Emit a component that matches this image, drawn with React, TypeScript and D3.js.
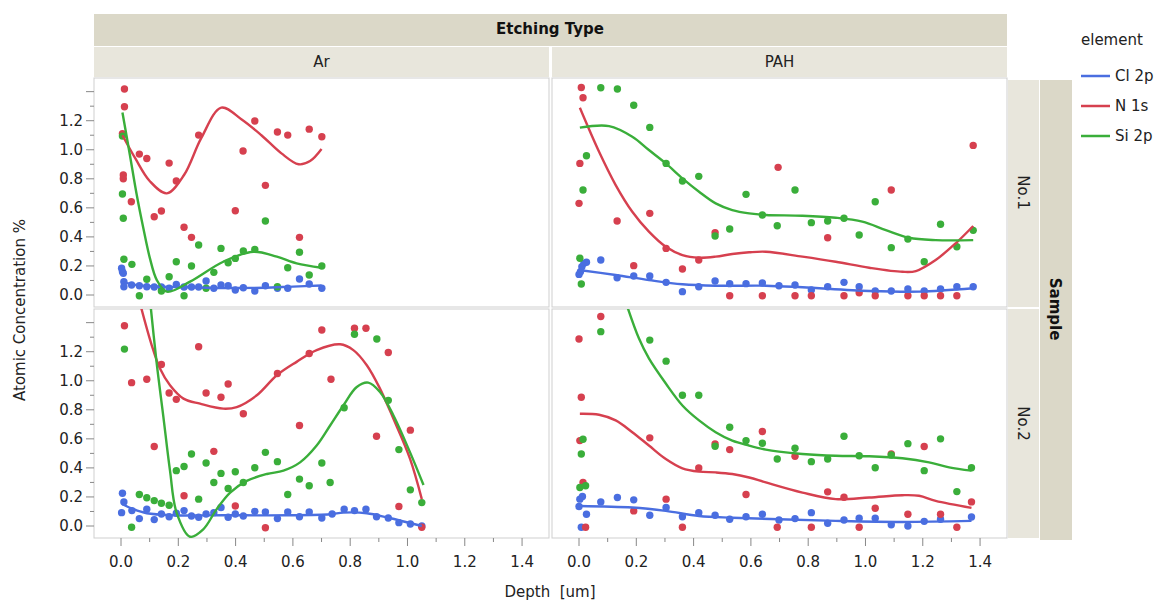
import * as d3 from 'd3';

// ---- data ----
const elements = ['Cl 2p', 'N 1s', 'Si 2p'];
const colors = ['#4a6ee0', '#d6404f', '#3aae3a'];
const etchTypes = ['Ar', 'PAH'];
const samples = ['No.1', 'No.2'];
const xTickVals = [0, 0.2, 0.4, 0.6, 0.8, 1.0, 1.2, 1.4];
const yTickVals = [0, 0.2, 0.4, 0.6, 0.8, 1.0, 1.2];

type P = [number, number];

// Ar / No.1
const arNo1Cl: P[] = [[0.002,0.184],[0.005,0.16],[0.008,0.15],[0.01,0.092],[0.01,0.057],[0.037,0.069],[0.064,0.064],[0.09,0.057],[0.116,0.055],[0.141,0.055],[0.168,0.046],[0.193,0.073],[0.22,0.055],[0.246,0.055],[0.271,0.055],[0.297,0.096],[0.324,0.046],[0.349,0.069],[0.374,0.064],[0.399,0.034],[0.427,0.05],[0.467,0.028],[0.504,0.064],[0.546,0.046],[0.582,0.046],[0.623,0.11],[0.657,0.076],[0.701,0.046]];
const arNo1N: P[] = [[0.012,1.418],[0.012,1.296],[0.005,1.11],[0.008,0.826],[0.008,0.8],[0.036,0.642],[0.064,0.97],[0.09,0.94],[0.116,0.539],[0.141,0.578],[0.168,0.908],[0.193,0.785],[0.22,0.466],[0.246,0.397],[0.271,1.101],[0.399,0.58],[0.426,0.991],[0.467,1.198],[0.504,0.755],[0.546,1.122],[0.582,1.101],[0.623,0.397],[0.657,1.142],[0.701,1.09]];
const arNo1Si: P[] = [[0.005,1.094],[0.005,0.695],[0.008,0.528],[0.01,0.246],[0.038,0.211],[0.064,-0.005],[0.09,0.108],[0.141,0.028],[0.168,0.126],[0.193,0.229],[0.22,-0.005],[0.246,0.2],[0.271,0.344],[0.297,0.046],[0.324,0.156],[0.349,0.321],[0.374,0.222],[0.399,0.252],[0.427,0.303],[0.467,0.314],[0.504,0.509],[0.546,0.057],[0.582,0.188],[0.623,0.294],[0.657,0.138],[0.701,0.2]];
const arNo1ClFit: P[] = [[0,0.09],[0.05,0.07],[0.1,0.06],[0.2,0.055],[0.3,0.05],[0.4,0.048],[0.5,0.05],[0.6,0.058],[0.7,0.065]];
const arNo1NFit: P[] = [[0.005,1.1],[0.05,0.94],[0.1,0.785],[0.16,0.7],[0.22,0.826],[0.28,1.08],[0.35,1.29],[0.42,1.21],[0.49,1.1],[0.56,0.975],[0.62,0.9],[0.66,0.922],[0.7,1.005]];
const arNo1SiFit: P[] = [[0.005,1.257],[0.031,0.964],[0.055,0.688],[0.078,0.459],[0.101,0.252],[0.125,0.103],[0.16,0.023],[0.241,0.092],[0.357,0.229],[0.462,0.298],[0.544,0.264],[0.613,0.218],[0.7,0.188]];

// PAH / No.1
const pahNo1Cl: P[] = [[0,0.142],[0.005,0.16],[0.01,0.195],[0.017,0.218],[0.026,0.225],[0.076,0.241],[0.133,0.119],[0.191,0.131],[0.247,0.131],[0.304,0.087],[0.361,0.023],[0.418,0.057],[0.475,0.096],[0.526,0.078],[0.583,0.078],[0.64,0.083],[0.698,0.064],[0.754,0.069],[0.811,0.034],[0.868,0.057],[0.925,0.087],[0.978,0.057],[1.034,0.028],[1.09,0.028],[1.148,0.041],[1.205,0.028],[1.262,0.041],[1.319,0.057],[1.376,0.057]];
const pahNo1N: P[] = [[0.008,1.429],[0.014,1.358],[0.003,0.906],[0,0.631],[0.133,0.509],[0.191,0.202],[0.247,0.562],[0.304,0.321],[0.361,0.179],[0.418,0.241],[0.475,0.429],[0.526,-0.005],[0.64,-0.005],[0.695,0.879],[0.754,-0.005],[0.811,-0.005],[0.868,0.394],[0.925,-0.005],[0.978,0.016],[1.034,-0.005],[1.09,0.723],[1.148,-0.005],[1.205,-0.005],[1.262,-0.005],[1.319,-0.005],[1.376,1.03]];
const pahNo1Si: P[] = [[0.003,0.253],[0.008,0.076],[0.014,0.723],[0.026,0.959],[0.076,1.427],[0.134,1.418],[0.191,1.306],[0.247,1.154],[0.304,0.906],[0.361,0.785],[0.418,0.817],[0.475,0.406],[0.526,0.454],[0.583,0.693],[0.64,0.551],[0.692,0.477],[0.754,0.723],[0.811,0.498],[0.868,0.509],[0.925,0.528],[0.978,0.413],[1.034,0.642],[1.09,0.326],[1.148,0.385],[1.205,0.229],[1.262,0.487],[1.319,0.332],[1.376,0.445]];
const pahNo1ClFit: P[] = [[0,0.172],[0.128,0.138],[0.244,0.103],[0.361,0.074],[0.477,0.064],[0.652,0.064],[0.78,0.053],[1.013,0.028],[1.187,0.023],[1.376,0.046]];
const pahNo1NFit: P[] = [[0.003,1.289],[0.07,0.986],[0.128,0.757],[0.186,0.573],[0.244,0.436],[0.303,0.332],[0.361,0.275],[0.419,0.257],[0.477,0.264],[0.535,0.282],[0.594,0.294],[0.652,0.298],[0.78,0.264],[0.896,0.229],[1.013,0.188],[1.129,0.16],[1.176,0.165],[1.245,0.241],[1.315,0.356],[1.376,0.475]];
const pahNo1SiFit: P[] = [[0.003,1.152],[0.105,1.163],[0.186,1.09],[0.244,0.998],[0.303,0.906],[0.361,0.803],[0.419,0.711],[0.477,0.631],[0.535,0.585],[0.594,0.562],[0.652,0.551],[0.78,0.546],[0.896,0.532],[0.989,0.505],[1.071,0.447],[1.152,0.394],[1.245,0.378],[1.376,0.378]];

// Ar / No.2
const arNo2Cl: P[] = [[0.005,0.226],[0.01,0.166],[0.002,0.092],[0.038,0.106],[0.064,0.051],[0.09,0.116],[0.116,0.044],[0.141,0.083],[0.168,0.064],[0.193,0.088],[0.22,0.106],[0.246,0.069],[0.271,0.06],[0.297,0.083],[0.324,0.092],[0.349,0.127],[0.374,0.06],[0.399,0.083],[0.427,0.069],[0.467,0.101],[0.504,0.097],[0.546,0.051],[0.582,0.097],[0.623,0.064],[0.657,0.097],[0.701,0.055],[0.737,0.083],[0.779,0.116],[0.815,0.106],[0.855,0.116],[0.892,0.064],[0.933,0.055],[0.97,0.023],[1.01,0.014],[1.05,0]];
const arNo2N: P[] = [[0.012,1.379],[0.037,0.987],[0.09,1.01],[0.116,0.547],[0.141,1.112],[0.168,0.916],[0.193,0.872],[0.22,0.208],[0.271,1.234],[0.297,0.916],[0.324,0.514],[0.349,0.886],[0.374,0.978],[0.399,0.138],[0.427,0.773],[0.504,-0.012],[0.546,1.05],[0.623,0.692],[0.657,1.188],[0.701,1.349],[0.733,1.01],[0.815,1.361],[0.855,1.361],[0.892,0.618],[0.933,1.195],[0.97,0.134],[1.01,0.66],[1.05,-0.009]];
const arNo2Si: P[] = [[0.012,1.218],[0.037,-0.009],[0.064,0.217],[0.09,0.194],[0.116,0.175],[0.141,0.157],[0.168,0.143],[0.193,0.381],[0.22,0.41],[0.246,0.496],[0.271,0.185],[0.297,0.434],[0.324,0.3],[0.349,0.362],[0.374,0.258],[0.399,0.374],[0.427,0.3],[0.467,0.401],[0.504,0.507],[0.546,0.443],[0.582,0.217],[0.623,0.323],[0.657,0.277],[0.701,0.434],[0.73,0.3],[0.779,0.814],[0.815,1.32],[0.893,1.287],[0.933,0.865],[0.97,0.526],[1.01,0.249],[1.05,0.161]];
const arNo2ClFit: P[] = [[0.005,0.15],[0.043,0.116],[0.09,0.088],[0.183,0.074],[0.357,0.074],[0.59,0.074],[0.73,0.081],[0.776,0.092],[0.858,0.088],[0.933,0.057],[1.05,0]];
const arNo2NFit: P[] = [[0.06,1.58],[0.107,1.246],[0.136,1.084],[0.171,0.969],[0.218,0.877],[0.276,0.842],[0.357,0.808],[0.404,0.819],[0.474,0.9],[0.544,1.038],[0.613,1.13],[0.683,1.211],[0.765,1.251],[0.811,1.211],[0.858,1.107],[0.904,0.946],[0.951,0.738],[1.009,0.462],[1.05,0.185]];
const arNo2SiFit: P[] = [[0.101,1.56],[0.124,1.13],[0.148,0.75],[0.171,0.381],[0.194,0.092],[0.241,-0.074],[0.287,-0.023],[0.334,0.116],[0.381,0.23],[0.439,0.311],[0.509,0.358],[0.567,0.381],[0.625,0.438],[0.683,0.554],[0.73,0.692],[0.776,0.83],[0.823,0.957],[0.863,0.987],[0.904,0.922],[0.951,0.761],[1.009,0.507],[1.056,0.282]];

// PAH / No.2
const pahNo2Cl: P[] = [[0,0.134],[0.003,0.185],[0.012,0.203],[0.026,0.081],[0.008,-0.009],[0.076,0.166],[0.134,0.196],[0.191,0.18],[0.247,0.074],[0.304,0.127],[0.361,0.064],[0.418,0.092],[0.475,0.074],[0.526,0.046],[0.583,0.064],[0.64,0.081],[0.698,0.041],[0.754,0.051],[0.811,0.092],[0.868,0.019],[0.925,0.041],[0.978,0.053],[1.034,0.053],[1.09,0.009],[1.148,0],[1.205,0.032],[1.262,0.046],[1.37,0.062]];
const pahNo2N: P[] = [[0.076,1.442],[0,1.287],[0.008,0.886],[0.003,0.588],[0.014,0.3],[0.023,-0.009],[0.191,0.104],[0.247,0.607],[0.304,0.185],[0.361,-0.009],[0.418,0.399],[0.475,0.565],[0.526,0.526],[0.583,0.217],[0.64,0.651],[0.692,-0.009],[0.754,0.48],[0.811,-0.009],[0.868,0.235],[0.925,0.198],[0.978,-0.009],[1.034,0.122],[1.09,0.496],[1.148,0.081],[1.205,0.547],[1.262,0.081],[1.319,-0.009],[1.37,0.166]];
const pahNo2Si: P[] = [[0.076,1.338],[0.247,1.28],[0.304,1.135],[0.361,0.9],[0.418,0.9],[0.475,0.549],[0.526,0.68],[0.583,0.588],[0.64,0.57],[0.692,0.461],[0.014,0.597],[0.008,0.496],[0.003,0.265],[0.023,0.277],[0.754,0.535],[0.811,0.443],[0.868,0.461],[0.925,0.618],[0.978,0.484],[1.034,0.401],[1.09,0.489],[1.148,0.567],[1.205,0.381],[1.262,0.6],[1.319,0.237],[1.37,0.401]];
const pahNo2ClFit: P[] = [[0,0.138],[0.186,0.127],[0.303,0.104],[0.419,0.069],[0.535,0.057],[0.698,0.046],[0.896,0.035],[1.129,0.028],[1.37,0.035]];
const pahNo2NFit: P[] = [[0.003,0.773],[0.07,0.766],[0.128,0.727],[0.186,0.646],[0.244,0.554],[0.303,0.461],[0.361,0.397],[0.419,0.374],[0.477,0.369],[0.535,0.358],[0.594,0.334],[0.652,0.3],[0.78,0.23],[0.896,0.185],[1.013,0.196],[1.129,0.212],[1.187,0.208],[1.245,0.173],[1.37,0.125]];
const pahNo2SiFit: P[] = [[0.16,1.56],[0.209,1.292],[0.244,1.154],[0.303,0.981],[0.361,0.83],[0.419,0.727],[0.477,0.646],[0.535,0.588],[0.594,0.554],[0.652,0.526],[0.698,0.512],[0.78,0.496],[0.896,0.484],[1.013,0.48],[1.129,0.466],[1.222,0.438],[1.292,0.404],[1.37,0.381]];

const panels = [
  { col: 0, row: 0, pts: [arNo1Cl, arNo1N, arNo1Si], fits: [arNo1ClFit, arNo1NFit, arNo1SiFit] },
  { col: 1, row: 0, pts: [pahNo1Cl, pahNo1N, pahNo1Si], fits: [pahNo1ClFit, pahNo1NFit, pahNo1SiFit] },
  { col: 0, row: 1, pts: [arNo2Cl, arNo2N, arNo2Si], fits: [arNo2ClFit, arNo2NFit, arNo2SiFit] },
  { col: 1, row: 1, pts: [pahNo2Cl, pahNo2N, pahNo2Si], fits: [pahNo2ClFit, pahNo2NFit, pahNo2SiFit] },
];

// ---- layout ----
const W = 1163, H = 601;
const panelX = [94, 552];
const panelY = [78, 309];
const panelW = 455, panelH = 229;
const font = "Verdana, 'DejaVu Sans', sans-serif";
const stripDark = '#dbd8c8';
const stripLight = '#e8e6dc';
const border = '#cfcfcf';

export default function App() {
  const x = d3.scaleLinear().domain([-0.0943, 1.494]).range([0, panelW]);
  const y = d3.scaleLinear().domain([-0.0826, 1.494]).range([panelH, 0]);
  const line = d3.line<P>().x(d => x(d[0])).y(d => y(d[1])).curve(d3.curveCatmullRom.alpha(0.5));
  const minor = d3.range(0, 15).map(i => i / 10);
  const bottomY = panelY[1] + panelH;

  return (
    <svg width={W} height={H} style={{ position: 'absolute', left: 0, top: 0, background: '#fff' }} fontFamily={font}>
      {/* top strips */}
      <rect x={94} y={14} width={913} height={32} fill={stripDark} />
      <text x={550} y={34} textAnchor="middle" fontSize={15} fontWeight="bold" fill="#111">Etching Type</text>
      {etchTypes.map((t, i) => (
        <g key={t}>
          <rect x={panelX[i]} y={47} width={panelW} height={30} fill={stripLight} />
          <text x={panelX[i] + panelW / 2} y={67} textAnchor="middle" fontSize={15} fill="#222">{t}</text>
        </g>
      ))}
      {/* right strips */}
      <rect x={1040} y={80} width={32} height={bottomY - 80 + 2} fill={stripDark} />
      <text transform={`translate(1050,${(80 + bottomY) / 2}) rotate(90)`} textAnchor="middle" fontSize={15} fontWeight="bold" fill="#111">Sample</text>
      {samples.map((s, i) => (
        <g key={s}>
          <rect x={1008} y={panelY[i] + (i === 0 ? 2 : 0)} width={31} height={panelH - (i === 0 ? 2 : 0)} fill={stripLight} />
          <text transform={`translate(1018,${panelY[i] + panelH / 2}) rotate(90)`} textAnchor="middle" fontSize={15} fill="#222">{s}</text>
        </g>
      ))}

      {panels.map((p, pi) => {
        const px = panelX[p.col], py = panelY[p.row];
        const clipId = `clip${pi}`;
        return (
          <g key={pi} transform={`translate(${px},${py})`}>
            <defs>
              <clipPath id={clipId}><rect width={panelW} height={panelH} /></clipPath>
            </defs>
            <rect width={panelW} height={panelH} fill="#fff" stroke={border} />
            <g clipPath={`url(#${clipId})`}>
              {p.pts.map((pts, si) => (
                <g key={si} fill={colors[si]}>
                  {pts.map((d, k) => <circle key={k} cx={x(d[0])} cy={y(d[1])} r={3.7} />)}
                </g>
              ))}
              {p.fits.map((f, si) => (
                <path key={si} d={line(f) || ''} fill="none" stroke={colors[si]} strokeWidth={2.4} />
              ))}
            </g>
          </g>
        );
      })}

      {/* y axes */}
      {panelY.map((py, r) => (
        <g key={r} transform={`translate(${panelX[0]},${py})`} fontSize={15} fill="#222">
          {minor.map(v => {
            const major = Math.round(v * 10) % 2 === 0;
            return <line key={v} x1={major ? -8 : -4} x2={0} y1={y(v)} y2={y(v)} stroke="#888" />;
          })}
          {yTickVals.map(v => (
            <text key={v} x={-11} y={y(v)} dy="0.36em" textAnchor="end">{v.toFixed(1)}</text>
          ))}
        </g>
      ))}

      {/* x axes */}
      {panelX.map((px, c) => (
        <g key={c} transform={`translate(${px},${bottomY})`} fontSize={15} fill="#222">
          {minor.map(v => {
            const major = Math.round(v * 10) % 2 === 0;
            return <line key={v} x1={x(v)} x2={x(v)} y1={0} y2={major ? 8 : 4} stroke="#888" />;
          })}
          {xTickVals.map(v => (
            <text key={v} x={x(v)} y={29} textAnchor="middle">{v.toFixed(1)}</text>
          ))}
        </g>
      ))}

      <text x={550} y={597} textAnchor="middle" fontSize={15} fill="#222" style={{ whiteSpace: 'pre' }}>Depth  [um]</text>
      <text transform={`translate(25,310) rotate(-90)`} textAnchor="middle" fontSize={15} fill="#222">Atomic Concentration %</text>

      {/* legend */}
      <text x={1081} y={45} fontSize={15} fill="#222">element</text>
      {elements.map((e, i) => (
        <g key={e} transform={`translate(1081,${76 + i * 30})`}>
          <line x1={0} x2={29} y1={0} y2={0} stroke={colors[i]} strokeWidth={2.5} />
          <text x={34} y={0} dy="0.36em" fontSize={15} fill="#222">{e}</text>
        </g>
      ))}
    </svg>
  );
}
